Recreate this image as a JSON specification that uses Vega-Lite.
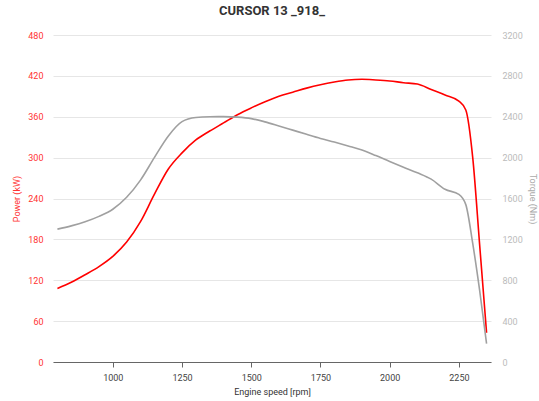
{
  "$schema": "https://vega.github.io/schema/vega-lite/v6.json",
  "autosize": "none",
  "width": 438,
  "height": 327,
  "padding": {"left": 53, "top": 35, "right": 48, "bottom": 39},
  "background": "white",
  "config": {
    "font": "Roboto",
    "view": {"stroke": null},
    "title": {"font": "Roboto", "fontSize": 13, "fontWeight": "bold", "color": "#333333", "offset": 13}
  },
  "title": {"text": "CURSOR 13 _918_", "anchor": "middle"},
  "data": {
    "values": [
      {"rpm": 800, "power": 108, "torque": 1300},
      {"rpm": 850, "power": 117, "torque": 1332},
      {"rpm": 900, "power": 128, "torque": 1372},
      {"rpm": 950, "power": 140, "torque": 1425},
      {"rpm": 1000, "power": 155, "torque": 1495},
      {"rpm": 1050, "power": 176, "torque": 1612},
      {"rpm": 1100, "power": 206, "torque": 1780},
      {"rpm": 1150, "power": 246, "torque": 2000},
      {"rpm": 1200, "power": 283, "torque": 2210},
      {"rpm": 1250, "power": 307, "torque": 2352},
      {"rpm": 1300, "power": 326, "torque": 2393},
      {"rpm": 1350, "power": 339, "torque": 2400},
      {"rpm": 1400, "power": 351, "torque": 2401},
      {"rpm": 1450, "power": 363, "torque": 2396},
      {"rpm": 1500, "power": 373, "torque": 2382},
      {"rpm": 1550, "power": 382, "torque": 2350},
      {"rpm": 1600, "power": 390, "torque": 2310},
      {"rpm": 1650, "power": 396, "torque": 2269},
      {"rpm": 1700, "power": 402, "torque": 2228},
      {"rpm": 1750, "power": 407, "torque": 2188},
      {"rpm": 1800, "power": 411, "torque": 2152},
      {"rpm": 1850, "power": 414, "torque": 2114},
      {"rpm": 1900, "power": 415, "torque": 2074},
      {"rpm": 1950, "power": 414, "torque": 2020},
      {"rpm": 2000, "power": 412.5, "torque": 1962},
      {"rpm": 2050, "power": 410, "torque": 1906},
      {"rpm": 2100, "power": 408, "torque": 1852},
      {"rpm": 2150, "power": 400, "torque": 1790},
      {"rpm": 2200, "power": 392, "torque": 1690},
      {"rpm": 2250, "power": 383, "torque": 1640},
      {"rpm": 2275, "power": 370, "torque": 1540},
      {"rpm": 2300, "power": 300, "torque": 1160},
      {"rpm": 2325, "power": 172, "torque": 700},
      {"rpm": 2350, "power": 43, "torque": 180}
    ]
  },
  "encoding": {
    "x": {
      "field": "rpm", "type": "quantitative",
      "scale": {"domain": [784, 2366], "nice": false, "zero": false},
      "axis": {
        "title": "Engine speed [rpm]",
        "values": [1000, 1250, 1500, 1750, 2000, 2250],
        "format": "d",
        "grid": false,
        "domainColor": "#666666",
        "tickColor": "#666666",
        "tickSize": 5,
        "labelFontSize": 9,
        "labelColor": "#444444",
        "labelPadding": 6,
        "titleFontSize": 9,
        "titleFontWeight": "normal",
        "titleColor": "#333333",
        "titlePadding": 5
      }
    }
  },
  "layer": [
    {
      "mark": {"type": "line", "color": "#ff0000", "strokeWidth": 1.6, "interpolate": "monotone"},
      "encoding": {
        "y": {
          "field": "power", "type": "quantitative",
          "scale": {"domain": [0, 480], "nice": false},
          "axis": {
            "title": "Power (kW)",
            "values": [0, 60, 120, 180, 240, 300, 360, 420, 480],
            "format": "d",
            "grid": true,
            "gridColor": "#e6e6e6",
            "domain": false,
            "ticks": false,
            "labelFontSize": 9,
            "labelColor": "#ff3333",
            "labelPadding": 10,
            "titleFontSize": 9,
            "titleFontWeight": "normal",
            "titleColor": "#ff3333",
            "titlePadding": 6
          }
        }
      }
    },
    {
      "mark": {"type": "line", "color": "#a0a0a0", "strokeWidth": 1.6, "interpolate": "monotone"},
      "encoding": {
        "y": {
          "field": "torque", "type": "quantitative",
          "scale": {"domain": [0, 3200], "nice": false},
          "axis": {
            "orient": "right",
            "title": "Torque (Nm)",
            "values": [0, 400, 800, 1200, 1600, 2000, 2400, 2800, 3200],
            "format": "d",
            "grid": false,
            "domain": false,
            "ticks": false,
            "labelFontSize": 9,
            "labelColor": "#bbbbbb",
            "labelPadding": 11,
            "titleFontSize": 9,
            "titleFontWeight": "normal",
            "titleColor": "#aaaaaa",
            "titlePadding": 5
          }
        }
      }
    }
  ],
  "resolve": {"scale": {"y": "independent"}}
}
